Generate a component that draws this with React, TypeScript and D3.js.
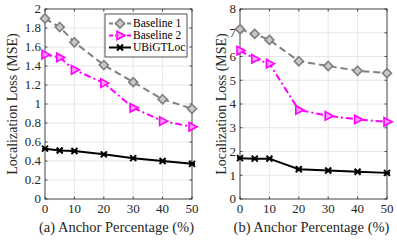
import React from "react";
import * as d3 from "d3";

const anchors = [0, 5, 10, 20, 30, 40, 50];
const xTicks = [0, 10, 20, 30, 40, 50];

const leftB1 = [1.9, 1.81, 1.65, 1.41, 1.23, 1.05, 0.95];
const leftB2 = [1.52, 1.49, 1.36, 1.22, 0.96, 0.82, 0.76];
const leftOurs = [0.53, 0.51, 0.505, 0.47, 0.43, 0.4, 0.37];
const leftYTicks = [0, 0.2, 0.4, 0.6, 0.8, 1, 1.2, 1.4, 1.6, 1.8, 2];

const rightB1 = [7.15, 6.95, 6.7, 5.8, 5.6, 5.4, 5.3];
const rightB2 = [6.25, 5.9, 5.7, 3.75, 3.5, 3.35, 3.25];
const rightOurs = [1.72, 1.7, 1.7, 1.25, 1.2, 1.15, 1.1];
const rightYTicks = [0, 1, 2, 3, 4, 5, 6, 7, 8];

const seriesNames = ["Baseline 1", "Baseline 2", "UBiGTLoc"];
const FONT = "Liberation Serif";

function Marker({ kind, x, y }: { kind: number; x: number; y: number }) {
  if (kind === 0) {
    const r = 4.5;
    return (
      <path
        d={`M${x},${y - r}L${x + r},${y}L${x},${y + r}L${x - r},${y}Z`}
        fill="#c8c8c8"
        stroke="#7f7f7f"
        strokeWidth={1.6}
      />
    );
  }
  if (kind === 1) {
    const r = 5;
    return (
      <path
        d={`M${x + r},${y}L${x - r * 0.6},${y - r * 0.85}L${x - r * 0.6},${y + r * 0.85}Z`}
        fill="#ff99ff"
        stroke="#ff00ff"
        strokeWidth={1.6}
      />
    );
  }
  const r = 3;
  return (
    <g stroke="#000" strokeWidth={2}>
      <line x1={x - r} y1={y - r} x2={x + r} y2={y + r} />
      <line x1={x - r} y1={y + r} x2={x + r} y2={y - r} />
      <line x1={x - r} y1={y} x2={x + r} y2={y} />
    </g>
  );
}

const colors = ["#7f7f7f", "#ff00ff", "#000000"];
const dashes = ["7,4", "7,3,2,3", ""];
const txt = { fontFamily: FONT };

function Panel({
  x0,
  x1,
  yMax,
  yTicks,
  data,
  label,
  showLegend,
  yLabelX,
}: {
  x0: number;
  x1: number;
  yMax: number;
  yTicks: number[];
  data: number[][];
  label: string;
  showLegend: boolean;
  yLabelX: number;
}) {
  const top = 9;
  const bottom = 199;
  const xs = d3.scaleLinear().domain([0, 50]).range([x0, x1]);
  const ys = d3.scaleLinear().domain([0, yMax]).range([bottom, top]);
  const line = d3
    .line<number>()
    .x((_, i) => xs(anchors[i]))
    .y((d) => ys(d));
  const tickFmt = (v: number) => (Number.isInteger(v) ? String(v) : v.toFixed(1));
  return (
    <g>
      <rect x={x0} y={top} width={x1 - x0} height={bottom - top} fill="#fff" />
      {xTicks.map((t) => (
        <line key={"gx" + t} x1={xs(t)} x2={xs(t)} y1={top} y2={bottom} stroke="#e6e6e6" strokeWidth={1} />
      ))}
      {yTicks.map((t) => (
        <line key={"gy" + t} x1={x0} x2={x1} y1={ys(t)} y2={ys(t)} stroke="#e6e6e6" strokeWidth={1} />
      ))}
      <rect x={x0} y={top} width={x1 - x0} height={bottom - top} fill="none" stroke="#262626" strokeWidth={0.8} />
      {xTicks.map((t) => (
        <g key={"tx" + t}>
          <line x1={xs(t)} x2={xs(t)} y1={bottom} y2={bottom - 2.5} stroke="#262626" strokeWidth={0.8} />
          <line x1={xs(t)} x2={xs(t)} y1={top} y2={top + 2.5} stroke="#262626" strokeWidth={0.8} />
          <text x={xs(t)} y={bottom + 14} textAnchor="middle" fontSize={13} fill="#262626" style={txt}>
            {t}
          </text>
        </g>
      ))}
      {yTicks.map((t) => (
        <g key={"ty" + t}>
          <line x1={x0} x2={x0 + 2.5} y1={ys(t)} y2={ys(t)} stroke="#262626" strokeWidth={0.8} />
          <line x1={x1} x2={x1 - 2.5} y1={ys(t)} y2={ys(t)} stroke="#262626" strokeWidth={0.8} />
          <text x={x0 - 4} y={ys(t) + 4.4} textAnchor="end" fontSize={13} fill="#262626" style={txt}>
            {tickFmt(t)}
          </text>
        </g>
      ))}
      {data.map((s, k) => (
        <g key={"s" + k}>
          <path d={line(s) || ""} fill="none" stroke={colors[k]} strokeWidth={2} strokeDasharray={dashes[k]} />
          {s.map((v, i) => (
            <Marker key={i} kind={k} x={xs(anchors[i])} y={ys(v)} />
          ))}
        </g>
      ))}
      <text
        transform={`translate(${yLabelX},104) rotate(-90)`}
        textAnchor="middle"
        fontSize={14}
        fill="#262626"
        style={txt}
      >
        Localization Loss (MSE)
      </text>
      <text x={(x0 + x1) / 2 - 2} y={232} textAnchor="middle" fontSize={14.5} fill="#262626" style={txt}>
        {label}
      </text>
      {showLegend && (
        <g>
          <rect x={105} y={14} width={82} height={43} fill="#fff" stroke="#262626" strokeWidth={0.8} />
          {seriesNames.map((n, k) => {
            const ly = 23.5 + k * 12;
            return (
              <g key={n}>
                <line x1={109} x2={131} y1={ly} y2={ly} stroke={colors[k]} strokeWidth={2} strokeDasharray={k === 2 ? "" : k === 0 ? "4,2" : "4,2,1,2"} />
                <Marker kind={k} x={120} y={ly} />
                <text x={133} y={ly + 3.8} fontSize={11.5} fill="#000" style={txt}>
                  {n}
                </text>
              </g>
            );
          })}
        </g>
      )}
    </g>
  );
}

export default function App() {
  return (
    <svg width={397} height={241} style={{ position: "absolute", left: 0, top: 0, background: "#fff" }}>
      <rect width={397} height={241} fill="#fff" />
      <Panel x0={45} x1={192} yMax={2} yTicks={leftYTicks} data={[leftB1, leftB2, leftOurs]} label="(a) Anchor Percentage (%)" showLegend={true} yLabelX={17} />
      <Panel x0={240} x1={387} yMax={8} yTicks={rightYTicks} data={[rightB1, rightB2, rightOurs]} label="(b) Anchor Percentage (%)" showLegend={false} yLabelX={226} />
    </svg>
  );
}
